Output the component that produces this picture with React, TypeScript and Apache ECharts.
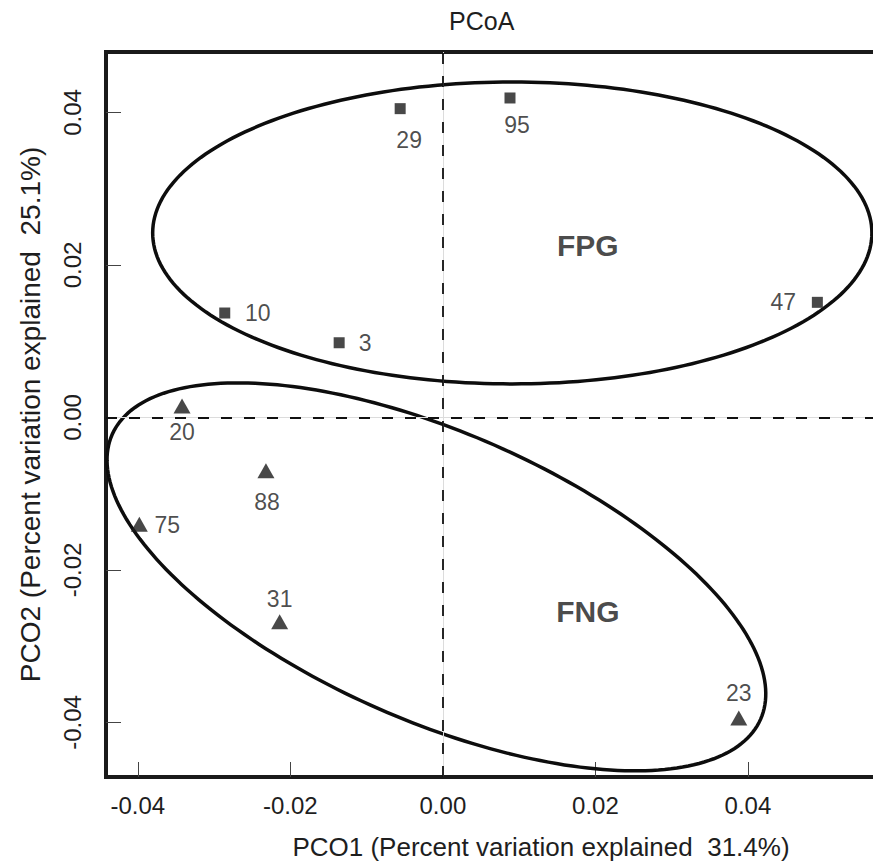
import React, { useEffect, useRef } from 'react';
import * as echarts from 'echarts';

// FPG samples (squares)
const fpgIds = ['29', '95', '10', '3', '47'];
const fpgX = [-0.0056, 0.0088, -0.0286, -0.0136, 0.0491];
const fpgY = [0.0405, 0.0419, 0.0137, 0.0098, 0.0151];

// FNG samples (triangles)
const fngIds = ['20', '88', '75', '31', '23'];
const fngX = [-0.0342, -0.0232, -0.0398, -0.0214, 0.0388];
const fngY = [0.0015, -0.007, -0.014, -0.0268, -0.0394];

// axis ticks
const tickValues = [-0.04, -0.02, 0, 0.02, 0.04];

// group labels
const groupNames = ['FPG', 'FNG'];
const groupX = [0.019, 0.019];
const groupY = [0.0226, -0.0254];

// group ellipses: centre, semi-axes, rotation (degrees)
const ellipseCx = [0.0091, -0.00085];
const ellipseCy = [0.0242, -0.0209];
const ellipseA = [0.04715, 0.04643];
const ellipseB = [0.0198, 0.01888];
const ellipseAngle = [0, -23.7];

const FONT = '"Liberation Sans", Arial, Helvetica, sans-serif';
const TEXT = '#1e1e1e';

// label placement (pixel offsets from the marker centre)
const labelOffset: Record<string, [number, number]> = {
  '29': [9, 31],
  '95': [7, 27],
  '10': [33, 0],
  '3': [26, 0],
  '47': [-34, 0],
  '20': [0, 26],
  '88': [1, 31],
  '75': [28, 1],
  '31': [0, -23],
  '23': [0, -25],
};

function pointData(ids: string[], xs: number[], ys: number[]) {
  return ids.map((id, i) => ({
    name: id,
    value: [xs[i], ys[i]],
    label: { offset: labelOffset[id] },
  }));
}

// The plot frame continues past the right edge of the picture
const CHART_W = 1000;
const CHART_H = 866;

export default function App() {
  const ref = useRef<HTMLDivElement>(null);

  useEffect(() => {
    if (!ref.current) return;
    const chart = echarts.init(ref.current, null, { renderer: 'svg' });

    const ellipseData = ellipseCx.map((cx, i) => [cx, ellipseCy[i], ellipseA[i], ellipseB[i], ellipseAngle[i]]);

    const pointLabel = {
      show: true,
      position: 'inside',
      formatter: '{b}',
      fontSize: 23,
      color: TEXT,
      fontFamily: FONT,
    };

    chart.setOption({
      animation: false,
      backgroundColor: '#fff',
      title: {
        text: 'PCoA',
        left: 449,
        top: 8,
        padding: 0,
        textStyle: { fontSize: 25, fontWeight: 'normal', color: TEXT, fontFamily: FONT },
      },
      grid: {
        left: 106,
        top: 52,
        bottom: 89,
        right: CHART_W - 976,
        show: true,
        borderColor: '#1a1a1a',
        borderWidth: 4,
        containLabel: false,
      },
      xAxis: {
        type: 'value',
        min: -0.04417,
        max: 0.0699,
        name: 'PCO1 (Percent variation explained  31.4%)',
        nameLocation: 'middle',
        nameGap: 57,
        nameTextStyle: { fontSize: 26, color: TEXT, fontFamily: FONT },
        axisLine: { show: false, onZero: false },
        splitLine: { show: false },
        axisTick: {
          show: true,
          inside: true,
          length: 15,
          customValues: tickValues,
          lineStyle: { color: '#444', width: 1 },
        },
        axisLabel: {
          customValues: tickValues,
          formatter: (v: number) => v.toFixed(2),
          fontSize: 24,
          color: TEXT,
          margin: 16,
          fontFamily: FONT,
        },
      },
      yAxis: {
        type: 'value',
        min: -0.04715,
        max: 0.04793,
        name: 'PCO2 (Percent variation explained  25.1%)',
        nameLocation: 'middle',
        nameGap: 62,
        nameTextStyle: { fontSize: 28, color: TEXT, fontFamily: FONT },
        axisLine: { show: false, onZero: false },
        splitLine: { show: false },
        axisTick: {
          show: true,
          inside: true,
          length: 15,
          customValues: tickValues,
          lineStyle: { color: '#444', width: 1 },
        },
        axisLabel: {
          customValues: tickValues,
          formatter: (v: number) => v.toFixed(2),
          rotate: 90,
          fontSize: 24,
          color: TEXT,
          margin: 22,
          fontFamily: FONT,
        },
      },
      series: [
        {
          type: 'custom',
          name: 'ellipses',
          silent: true,
          data: ellipseData,
          encode: { x: 0, y: 1 },
          renderItem: (params: any, api: any) => {
            const cx = api.value(0);
            const cy = api.value(1);
            const a = api.value(2);
            const b = api.value(3);
            const ang = (api.value(4) * Math.PI) / 180;
            const pts: number[][] = [];
            const n = 240;
            for (let k = 0; k < n; k++) {
              const t = (k / n) * Math.PI * 2;
              const dx = a * Math.cos(t);
              const dy = b * Math.sin(t);
              pts.push(
                api.coord([
                  cx + dx * Math.cos(ang) - dy * Math.sin(ang),
                  cy + dx * Math.sin(ang) + dy * Math.cos(ang),
                ])
              );
            }
            return {
              type: 'polygon',
              shape: { points: pts },
              style: { fill: 'none', stroke: '#0d0d0d', lineWidth: 3.5 },
            };
          },
          markLine: {
            silent: true,
            symbol: 'none',
            label: { show: false },
            data: [
              { xAxis: 0, lineStyle: { type: 'solid', color: '#dcdcdc', width: 1 } },
              { yAxis: 0, lineStyle: { type: 'solid', color: '#dcdcdc', width: 1 } },
              { xAxis: 0, lineStyle: { type: [11, 12], color: '#111', width: 1.8 } },
              { yAxis: 0, lineStyle: { type: [11, 12], color: '#111', width: 1.8 } },
            ],
          },
        },
        {
          type: 'scatter',
          name: 'FPG',
          symbol: 'rect',
          symbolSize: 11,
          itemStyle: { color: '#1a1a1a' },
          label: pointLabel,
          data: pointData(fpgIds, fpgX, fpgY),
        },
        {
          type: 'scatter',
          name: 'FNG',
          symbol: 'triangle',
          symbolSize: [17, 15],
          itemStyle: { color: '#1a1a1a' },
          label: pointLabel,
          data: pointData(fngIds, fngX, fngY),
        },
        {
          type: 'scatter',
          name: 'groups',
          symbolSize: 0,
          silent: true,
          label: {
            show: true,
            position: 'inside',
            formatter: '{b}',
            fontSize: 30,
            fontWeight: 'bold',
            color: '#1a1a1a',
            fontFamily: FONT,
          },
          data: groupNames.map((g, i) => ({ name: g, value: [groupX[i], groupY[i]] })),
        },
      ],
    });

    return () => chart.dispose();
  }, []);

  return (
    <div
      style={{
        position: 'fixed',
        left: 0,
        top: 0,
        width: 873,
        height: 866,
        overflow: 'hidden',
        background: '#fff',
      }}
    >
      <div ref={ref} style={{ width: CHART_W, height: CHART_H }} />
    </div>
  );
}
